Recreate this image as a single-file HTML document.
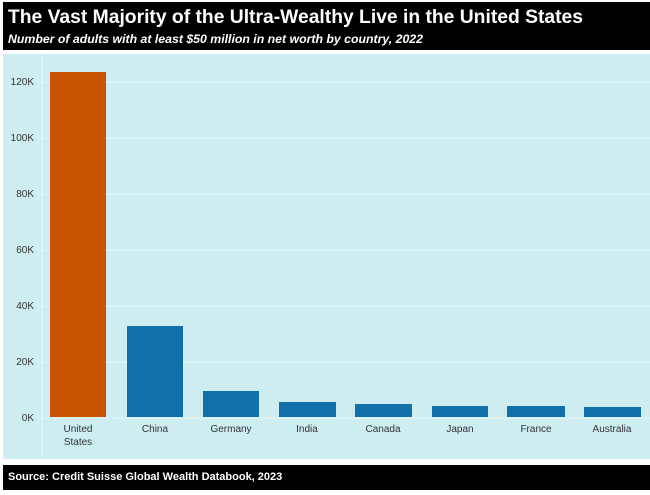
<!DOCTYPE html>
<html><head><style>
body{margin:0;width:650px;height:495px;background:#fff;font-family:"Liberation Sans",sans-serif;overflow:hidden;position:relative}
.hdr{position:absolute;left:3px;top:2px;width:647px;height:48px;background:#000;color:#fff}
.t{position:absolute;left:5px;top:5px;font-size:19.3px;font-weight:bold;white-space:nowrap}
.s{position:absolute;left:5px;top:30px;font-size:12.3px;font-weight:bold;font-style:italic;white-space:nowrap}
.ftr{position:absolute;left:3px;top:465px;width:647px;height:25px;background:#000;color:#fff;font-size:11px;font-weight:bold}
.ftr span{position:absolute;left:5px;top:6px}
</style></head><body>
<div class="hdr"><div class="t">The Vast Majority of the Ultra-Wealthy Live in the United States</div><div class="s">Number of adults with at least $50 million in net worth by country, 2022</div></div>
<svg style="position:absolute;left:0;top:0" width="650" height="495">
<rect x="3" y="54" width="647" height="405" fill="#cdedf0"/>
<g stroke="#dff3f5" stroke-width="1.5">
<line x1="42" y1="54" x2="42" y2="459"/>
<line x1="42" y1="418" x2="650" y2="418"/><line x1="42" y1="362" x2="650" y2="362"/><line x1="42" y1="306" x2="650" y2="306"/><line x1="42" y1="250" x2="650" y2="250"/><line x1="42" y1="194" x2="650" y2="194"/><line x1="42" y1="138" x2="650" y2="138"/><line x1="42" y1="82" x2="650" y2="82"/>
</g>
<g font-size="10" fill="#333" text-anchor="end">
<text x="34" y="421">0K</text><text x="34" y="365">20K</text><text x="34" y="309">40K</text><text x="34" y="253">60K</text><text x="34" y="197">80K</text><text x="34" y="141">100K</text><text x="34" y="85">120K</text>
</g>
<rect x="50" y="72" width="56" height="345" fill="#c85200"/>
<g fill="#1170aa">
<rect x="127" y="326" width="56" height="91"/>
<rect x="203" y="391" width="56" height="26"/>
<rect x="279" y="402" width="57" height="15"/>
<rect x="355" y="404" width="57" height="13"/>
<rect x="432" y="406" width="56" height="11"/>
<rect x="507" y="406" width="58" height="11"/>
<rect x="584" y="407" width="57" height="10"/>
</g>
<g font-size="10" fill="#333" text-anchor="middle">
<text x="78" y="432">United</text><text x="78" y="445">States</text>
<text x="155" y="432">China</text><text x="231" y="432">Germany</text><text x="307" y="432">India</text><text x="383" y="432">Canada</text><text x="460" y="432">Japan</text><text x="536" y="432">France</text><text x="612" y="432">Australia</text>
</g>
</svg>
<div class="ftr"><span>Source: Credit Suisse Global Wealth Databook, 2023</span></div>
</body></html>
